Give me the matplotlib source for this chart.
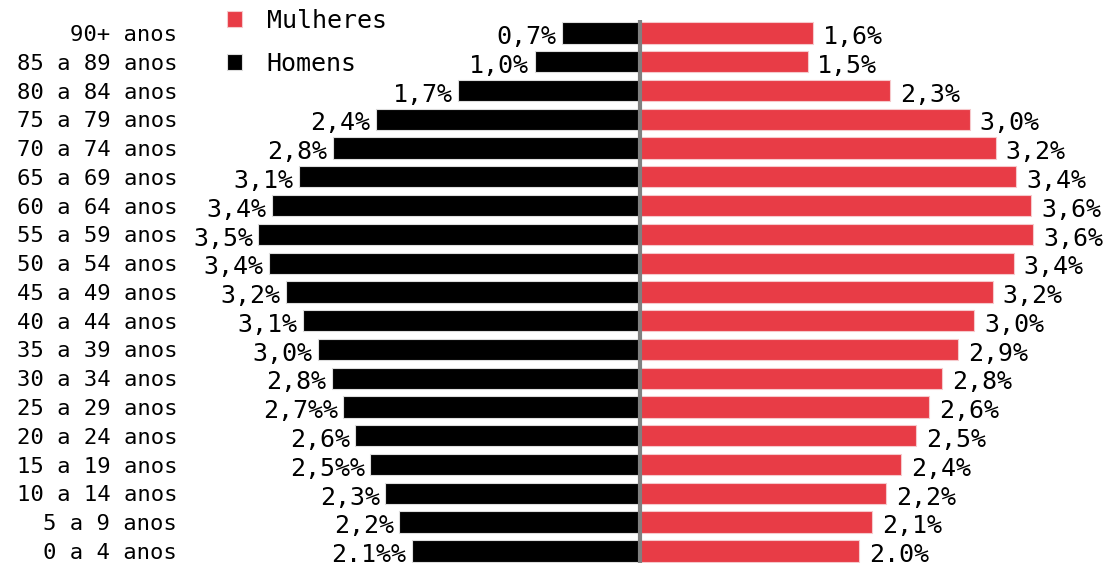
import numpy as np
import matplotlib
matplotlib.use("Agg")
import matplotlib.pyplot as plt

plt.rcParams["font.family"] = ["DejaVu Sans Mono"]

# age groups from youngest to oldest (bottom to top)
groups = ["0 a 4 anos", "5 a 9 anos", "10 a 14 anos", "15 a 19 anos", "20 a 24 anos",
          "25 a 29 anos", "30 a 34 anos", "35 a 39 anos", "40 a 44 anos", "45 a 49 anos",
          "50 a 54 anos", "55 a 59 anos", "60 a 64 anos", "65 a 69 anos", "70 a 74 anos",
          "75 a 79 anos", "80 a 84 anos", "85 a 89 anos", "90+ anos"]
homens = [2.12, 2.24, 2.37, 2.51, 2.65, 2.76, 2.87, 3.00, 3.14, 3.29,
          3.45, 3.55, 3.42, 3.17, 2.86, 2.46, 1.69, 0.98, 0.73]
mulheres = [2.04, 2.16, 2.29, 2.43, 2.57, 2.69, 2.81, 2.96, 3.11, 3.28,
            3.48, 3.66, 3.64, 3.50, 3.31, 3.07, 2.33, 1.56, 1.61]
homens_lbl = ["2.1%%", "2,2%", "2,3%", "2,5%%", "2,6%", "2,7%%", "2,8%", "3,0%", "3,1%", "3,2%",
              "3,4%", "3,5%", "3,4%", "3,1%", "2,8%", "2,4%", "1,7%", "1,0%", "0,7%"]
mulheres_lbl = ["2.0%", "2,1%", "2,2%", "2,4%", "2,5%", "2,6%", "2,8%", "2,9%", "3,0%", "3,2%",
                "3,4%", "3,6%", "3,6%", "3,4%", "3,2%", "3,0%", "2,3%", "1,5%", "1,6%"]

RED = "#e83c46"

fig = plt.figure(figsize=(11.07, 5.63), dpi=100)
ax = fig.add_axes([180 / 1107, 0, 920 / 1107, 543 / 563])

y = np.arange(len(groups))
bm = ax.barh(y, mulheres, height=0.74, color=RED, edgecolor="#f6c9cc", lw=0.8, label="Mulheres")
bh = ax.barh(y, [-v for v in homens], height=0.74, color="black", edgecolor="#dddddd", lw=0.8,
             label="Homens")
ax.axvline(0, color="#808080", lw=3, zorder=3)

for yi, v, t in zip(y, homens, homens_lbl):
    ax.annotate(t, (-v, yi), xytext=(-4, -3), textcoords="offset points",
                ha="right", va="center", fontsize=18)
for yi, v, t in zip(y, mulheres, mulheres_lbl):
    ax.annotate(t, (v, yi), xytext=(7, -3), textcoords="offset points",
                ha="left", va="center", fontsize=18)

ax.set_xlim(-4.28, 4.28)
ax.set_ylim(-0.42, 18.45)
ax.set_yticks(y)
ax.set_yticklabels(groups, fontsize=16)
ax.tick_params(axis="y", length=0, pad=2)
ax.set_xticks([])
for s in ax.spines.values():
    s.set_visible(False)

fig.legend(handles=[bm, bh], loc="upper left", bbox_to_anchor=(204 / 1107, 1.024),
           frameon=False, fontsize=18, handlelength=0.6, handleheight=0.6,
           handletextpad=1.0, labelspacing=0.75)

fig.savefig("out.png", dpi=100)
